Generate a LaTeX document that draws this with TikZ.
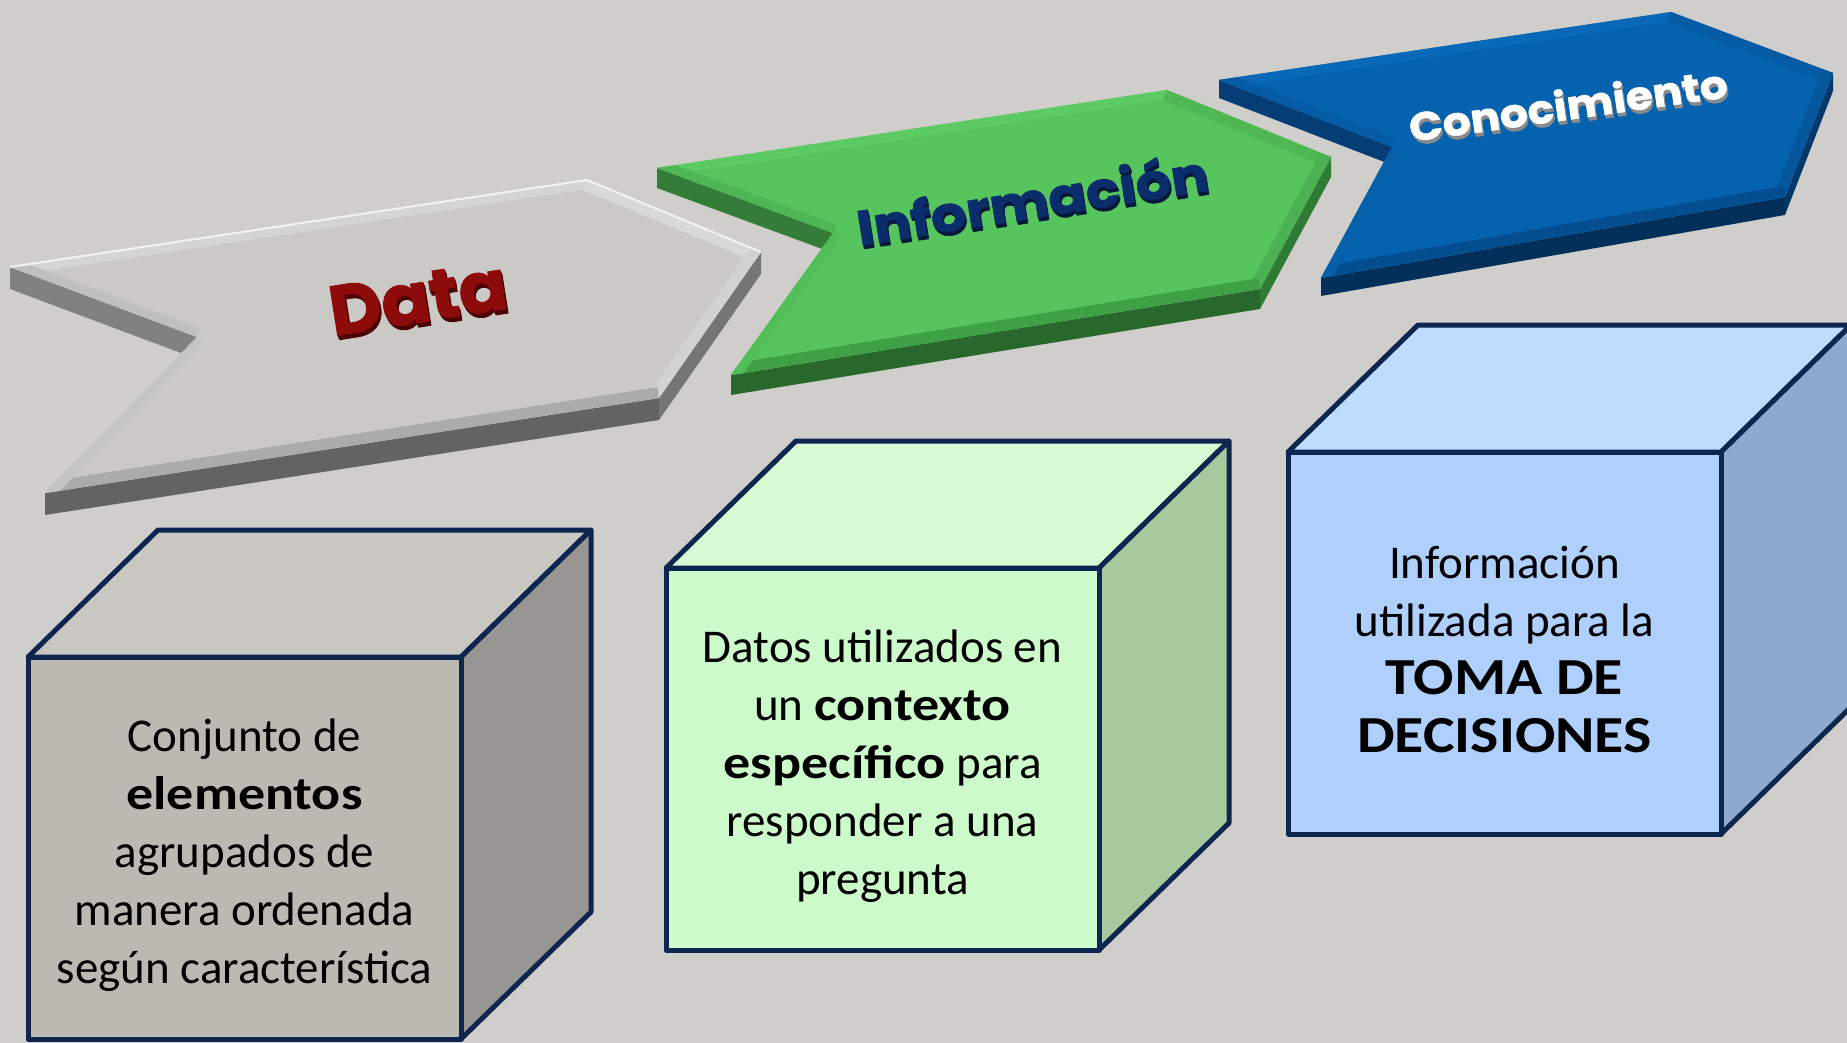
\documentclass[tikz,border=0pt]{standalone}
\usepackage{fontspec}
\usepackage{graphicx}
\setmainfont{Carlito}[BoldFeatures={FakeStretch=1.15}]
\newfontfamily\arrowfont{Poppins}[BoldFeatures={FakeBold=1.2}]
\usetikzlibrary{calc}
\definecolor{bg}{HTML}{CFCECA}
\definecolor{cubeline}{HTML}{0E2550}
\definecolor{c1front}{HTML}{BCB9B2}
\definecolor{c1top}{HTML}{C8C7C2}
\definecolor{c1side}{HTML}{979692}
\definecolor{c2front}{HTML}{CCFACB}
\definecolor{c2top}{HTML}{D7FBD3}
\definecolor{c2side}{HTML}{A6C99E}
\definecolor{c3front}{HTML}{AFD0FC}
\definecolor{c3top}{HTML}{BFDCFF}
\definecolor{c3side}{HTML}{8DA9CD}
% gray arrow
\definecolor{gface}{HTML}{CAC9C6}
\definecolor{gside}{HTML}{757574}
\definecolor{gtail}{HTML}{818180}
\definecolor{gbAB}{HTML}{D4D4D1}
\definecolor{gbBC}{HTML}{D8D8D6}
\definecolor{gbCD}{HTML}{D2D2D0}
\definecolor{gbDE}{HTML}{ABABA9}
\definecolor{gbEF}{HTML}{C4C4C1}
\definecolor{gbFA}{HTML}{BFBFBC}
% green arrow
\definecolor{nface}{HTML}{57C55D}
\definecolor{nside}{HTML}{2F7A34}
\definecolor{ntail}{HTML}{347D39}
\definecolor{nbAB}{HTML}{5DCB63}
\definecolor{nbBC}{HTML}{4FB855}
\definecolor{nbCD}{HTML}{4CB152}
\definecolor{nbDE}{HTML}{40A046}
\definecolor{nbEF}{HTML}{52BE58}
\definecolor{nbFA}{HTML}{4FB655}
% blue arrow
\definecolor{bface}{HTML}{0562AF}
\definecolor{bside}{HTML}{03386B}
\definecolor{btail}{HTML}{053E74}
\definecolor{bbAB}{HTML}{0968B7}
\definecolor{bbBC}{HTML}{055BA4}
\definecolor{bbCD}{HTML}{05569D}
\definecolor{bbDE}{HTML}{044D8E}
\definecolor{bbEF}{HTML}{0760AA}
\definecolor{bbFA}{HTML}{055CA5}
\definecolor{datared}{HTML}{8E0B0B}
\definecolor{datashadow}{HTML}{4A0202}
\definecolor{infoblue}{HTML}{0C2D6B}
\definecolor{infoshadow}{HTML}{061838}
\definecolor{conoshadow}{HTML}{8A8A8A}
\tikzset{
  cubeedge/.style={draw=cubeline, line width=5pt, line join=round},
  cubetext/.style={align=center, inner sep=0pt, text=black,
    font=\fontsize{47}{58}\selectfont},
  arrowlabel/.style={inner sep=0pt, font=\arrowfont\bfseries}
}
\newcommand\drawchev[2]{%
  \fill[#1tail] (#1A) -- (#1F) -- ($(#1F)+(0,#2)$) -- ($(#1A)+(0,#2)$) -- cycle;
  \fill[#1side!85!black] (#1E) -- (#1D) -- ($(#1D)+(0,#2)$) -- ($(#1E)+(0,#2)$) -- cycle;
  \fill[#1side] (#1D) -- (#1C) -- ($(#1C)+(0,#2)$) -- ($(#1D)+(0,#2)$) -- cycle;
  \fill[#1face] (#1A) -- (#1B) -- (#1C) -- (#1D) -- (#1E) -- (#1F) -- cycle;
  \begin{scope}
    \clip (#1A) -- (#1B) -- (#1C) -- (#1D) -- (#1E) -- (#1F) -- cycle;
    \draw[#1bAB, line width=18pt] (#1A) -- (#1B);
    \draw[#1bBC, line width=22pt] (#1B) -- (#1C);
    \draw[#1bCD, line width=22pt] (#1C) -- (#1D);
    \draw[#1bDE, line width=22pt] (#1D) -- (#1E);
    \draw[#1bEF, line width=18pt] (#1E) -- (#1F);
    \draw[#1bFA, line width=18pt] (#1F) -- (#1A);
  \end{scope}
}
\newcommand\mycube[7]{%
  \begin{scope}[shift={(#2,#3)}]
    \filldraw[cubeedge, fill=#5] (0,0) -- (130,-127) -- (563,-127) -- (433,0) -- cycle;
    \filldraw[cubeedge, fill=#6] (433,0) -- (563,-127) -- (563,255) -- (433,382) -- cycle;
    \filldraw[cubeedge, fill=#4] (0,0) rectangle (433,382);
    \node[cubetext] (#1) at (216.5,198) {#7};
  \end{scope}
}
\begin{document}
\begin{tikzpicture}[x=1pt,y=-1pt]
\useasboundingbox (0,0) rectangle (1847,1043);
\clip (0,0) rectangle (1847,1043);
\fill[bg] (0,0) rectangle (1847,1043);

% ---- gray arrow (Data)
\coordinate (gA) at (10,267);
\coordinate (gB) at (587,180);
\coordinate (gC) at (761,252);
\coordinate (gD) at (659,398);
\coordinate (gE) at (45,493);
\coordinate (gF) at (197,337);
\drawchev{g}{22}
\draw[white!90!gray, line width=2pt] (gA) -- (gB) -- (gC);

% ---- green arrow (Informacion)
\coordinate (nA) at (657,168);
\coordinate (nB) at (1167,90);
\coordinate (nC) at (1331,157);
\coordinate (nD) at (1260,289);
\coordinate (nE) at (731,375);
\coordinate (nF) at (833,233);
\drawchev{n}{20}

% ---- blue arrow (Conocimiento)
\coordinate (bA) at (1219,80);
\coordinate (bB) at (1671,12);
\coordinate (bC) at (1833,73);
\coordinate (bD) at (1785,197);
\coordinate (bE) at (1321,278);
\coordinate (bF) at (1392,147);
\drawchev{b}{18}

% ---- arrow labels (extrusion + face)
\coordinate (dataC) at (418,298);
\coordinate (infoC) at (1032,198);
\coordinate (conoC) at (1568,104);
\foreach \d in {1,2,3}{
  \node[arrowlabel, text=datashadow, rotate=9] (dataS\d) at ($(dataC)+(0.7*\d,1.4*\d)$) {\scalebox{1}[0.98]{\fontsize{72}{72}\selectfont Data}};
  \node[arrowlabel, text=infoshadow, rotate=9] (infoS\d) at ($(infoC)+(0.5*\d,1.2*\d)$) {\scalebox{1}[0.88]{\fontsize{56}{56}\selectfont Información}};
  \node[arrowlabel, text=conoshadow, rotate=8] (conoS\d) at ($(conoC)+(0.5*\d,1.2*\d)$) {\scalebox{1}[0.9]{\fontsize{44}{44}\selectfont Conocimiento}};
}
\node[arrowlabel, text=datared, rotate=9] (data) at (dataC) {\scalebox{1}[0.98]{\fontsize{72}{72}\selectfont Data}};
\node[arrowlabel, text=infoblue, rotate=9] (info) at (infoC) {\scalebox{1}[0.88]{\fontsize{56}{56}\selectfont Información}};
\node[arrowlabel, text=white, rotate=8] (cono) at (conoC) {\scalebox{1}[0.9]{\fontsize{44}{44}\selectfont Conocimiento}};

% ---- cubes
\mycube{cubeA}{28}{657}{c1front}{c1top}{c1side}{Conjunto de\\\textbf{elementos}\\agrupados de\\manera ordenada\\según característica}
\mycube{cubeB}{666}{568}{c2front}{c2top}{c2side}{Datos utilizados en\\un \textbf{contexto}\\\textbf{específico} para\\responder a una\\pregunta}
\mycube{cubeC}{1288}{452}{c3front}{c3top}{c3side}{Información\\utilizada para la\\{\fontsize{52}{58}\selectfont\bfseries TOMA DE}\\{\fontsize{52}{58}\selectfont\bfseries DECISIONES}}
\end{tikzpicture}
\end{document}
